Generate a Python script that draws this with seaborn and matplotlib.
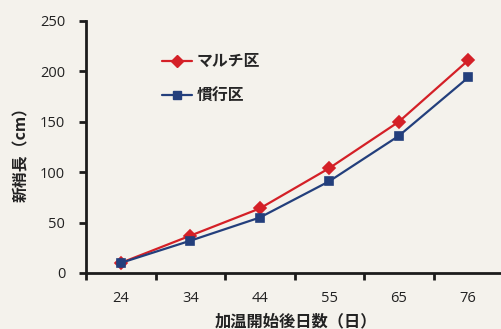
import matplotlib
matplotlib.use("Agg")
import matplotlib.pyplot as plt
from matplotlib.ticker import FixedLocator, NullFormatter
from matplotlib.lines import Line2D
import seaborn as sns
import pandas as pd

days = ["24", "34", "44", "55", "65", "76"]
mulch = [10, 37, 64, 104, 150, 211]
conventional = [10, 32, 55, 91, 136, 194]
series_names = ["マルチ区", "慣行区"]
y_ticks = [0, 50, 100, 150, 200, 250]
colors = ["#d42027", "#233f7c"]
markers = ["D", "s"]

df = pd.DataFrame({
    "day": days * 2,
    "length": mulch + conventional,
    "plot": [series_names[0]] * len(days) + [series_names[1]] * len(days),
})

sns.set_theme(style="white")
plt.rcParams["font.family"] = ["Noto Sans CJK JP", "DejaVu Sans"]

bg = "#f4f2ec"
fig = plt.figure(figsize=(5.01, 3.29), dpi=100, facecolor=bg)
ax = fig.add_axes([86 / 501, 56 / 329, 417 / 501, 252 / 329])
ax.set_facecolor(bg)

sns.pointplot(
    data=df, x="day", y="length", hue="plot", order=days,
    hue_order=series_names,
    palette=colors, markers=markers,
    linestyles=["-", "-"], markersize=6, linewidth=1.6,
    errorbar=None, ax=ax, legend=False,
)

ax.set_xlim(-0.5, 5.5)
ax.set_ylim(0, 250)

for s in ["top", "right"]:
    ax.spines[s].set_visible(False)
for s in ["left", "bottom"]:
    ax.spines[s].set_color("#1c1c1c")
    ax.spines[s].set_linewidth(2.0)

tick_font = {"family": ["Open Sans", "DejaVu Sans"], "size": 10.5}
ax.set_yticks(y_ticks)
ax.set_yticklabels([str(v) for v in y_ticks], fontdict=tick_font, color="#222222")
ax.set_xticks(range(len(days)))
ax.set_xticklabels(days, fontdict=tick_font, color="#222222")
ax.tick_params(axis="x", which="major", length=0, pad=13)
ax.xaxis.set_minor_locator(FixedLocator([i - 0.5 for i in range(len(days) + 1)]))
ax.xaxis.set_minor_formatter(NullFormatter())
ax.tick_params(axis="x", which="minor", bottom=True, length=5, width=2, color="#1c1c1c", direction="out")
ax.tick_params(axis="y", left=True, length=5, width=2, color="#1c1c1c", direction="out", pad=10)

ax.set_xlabel("加温開始後日数（日）", fontsize=11.7, fontweight="bold", color="#222222")
ax.set_ylabel("新梢長（cm）", fontsize=11.4, fontweight="bold", color="#222222")
ax.xaxis.set_label_coords((296 - 86) / 417, -40 / 252)
ax.yaxis.set_label_coords((29 - 86) / 417, (273 - 151) / 252)

leg_handles = [
    Line2D([], [], color=c, marker=m, markersize=6, linewidth=1.6)
    for c, m in zip(colors, markers)
]
ax.legend(
    leg_handles, series_names, loc="upper left",
    bbox_to_anchor=(62 / 417, 234 / 252), frameon=False,
    prop={"family": ["Noto Sans CJK JP", "DejaVu Sans"], "size": 11.4, "weight": "bold"},
    handlelength=1.9, handletextpad=0.25, labelspacing=1.18,
)

fig.savefig("out.png", dpi=100, facecolor=bg)
